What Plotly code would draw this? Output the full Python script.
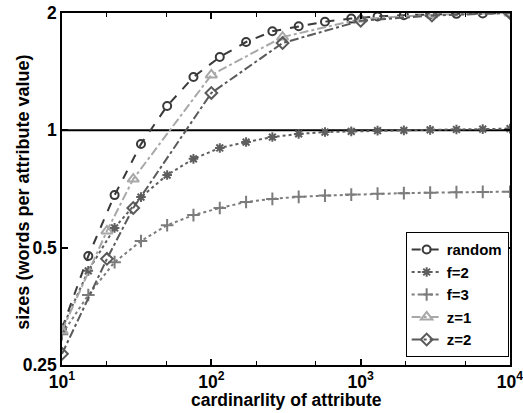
import plotly.graph_objects as go

# cardinalities (18-point log grid) for random/f series
card = [10, 15.0, 22.5, 33.8, 50.6, 75.9, 113.9, 170.9, 256.3, 384.5, 576.7, 865.0,
        1297.6, 1946.4, 2919.6, 4379.4, 6569.1, 10000]
random_v = [0.31, 0.476, 0.682, 0.922, 1.155, 1.37, 1.542, 1.685, 1.795, 1.85, 1.90,
            1.935, 1.96, 1.975, 1.985, 1.99, 1.995, 2.0]
f2_v = [0.31, 0.436, 0.562, 0.674, 0.768, 0.845, 0.901, 0.933, 0.961, 0.979, 0.99,
        0.994, 0.998, 1.0, 1.003, 1.005, 1.007, 1.01]
f3_v = [0.30, 0.378, 0.459, 0.520, 0.571, 0.606, 0.632, 0.655, 0.667, 0.675, 0.680,
        0.684, 0.688, 0.690, 0.692, 0.694, 0.695, 0.696]

# zipf series cardinalities
card_z = [10, 20, 30, 100, 300, 1000, 3000, 10000]
z1_v = [0.306, 0.552, 0.750, 1.387, 1.735, 1.93, 1.98, 2.0]
z2_v = [0.267, 0.468, 0.632, 1.247, 1.675, 1.91, 1.97, 2.0]

ref_level = 1
xtick_vals = [10, 100, 1000, 10000]
xtick_text = ["<b>10<sup>1</sup></b>", "<b>10<sup>2</sup></b>", "<b>10<sup>3</sup></b>", "<b>10<sup>4</sup></b>"]
ytick_vals = [0.25, 0.5, 1, 2]
ytick_text = ["<b>0.25</b>", "<b>0.5</b>", "<b>1</b>", "<b>2</b>"]
x_title = "cardinarlity of attribute"
y_title = "sizes (words per attribute value)"

FONT = "Liberation Sans, Arial, sans-serif"

fig = go.Figure()
fig.add_trace(go.Scatter(x=[min(card), max(card)], y=[ref_level, ref_level], mode="lines",
                         line=dict(color="black", width=2), showlegend=False, hoverinfo="skip"))

series = [
    ("random", card, random_v, "#3a3a3a", "dash", "circle-open", 8),
    ("f=2", card, f2_v, "#5e5e5e", "dot", "asterisk-open", 8),
    ("f=3", card, f3_v, "#7c7c7c", "dot", "cross-thin-open", 9),
    ("z=1", card_z, z1_v, "#a8a8a8", "dashdot", "triangle-up-open", 10),
    ("z=2", card_z, z2_v, "#5a5a5a", "dashdot", "diamond-open", 9),
]
for name, xs, ys, col, dash, sym, size in series:
    fig.add_trace(go.Scatter(
        x=xs, y=ys, name="<b>" + name + "</b>", mode="lines+markers",
        line=dict(color=col, dash=dash, width=2),
        marker=dict(symbol=sym, size=size, color=col, line=dict(color=col, width=2)),
    ))

fig.update_layout(
    width=523, height=413,
    margin=dict(l=62, r=13, t=13, b=48, autoexpand=False),
    paper_bgcolor="white", plot_bgcolor="white",
    font=dict(family=FONT, size=15, color="black"),
    legend=dict(x=0.997, y=0.022, xanchor="right", yanchor="bottom",
                bgcolor="white", bordercolor="black", borderwidth=1,
                font=dict(family=FONT, size=15, color="black"),
                tracegroupgap=0, itemwidth=30),
    annotations=[
        dict(text="<b>" + x_title + "</b>", xref="paper", yref="paper",
             x=0.5, y=-0.099, xanchor="center", yanchor="middle", showarrow=False,
             font=dict(family=FONT, size=17.5, color="black")),
        dict(text="<b>" + y_title + "</b>", xref="paper", yref="paper",
             x=-0.089, y=0.49, xanchor="center", yanchor="middle", showarrow=False,
             textangle=-90, font=dict(family=FONT, size=18, color="black")),
    ],
)
fig.update_xaxes(
    type="log", range=[1, 4], automargin=False, ticklabeloverflow="allow",
    tickvals=xtick_vals, ticktext=xtick_text,
    tickfont=dict(family=FONT, size=17.5, color="black"),
    ticks="inside", ticklen=6, tickwidth=1.5, tickcolor="black",
    minor=dict(ticks="inside", ticklen=4, tickcolor="black", tickwidth=1,
               dtick="D2", showgrid=False),
    showline=True, linecolor="black", linewidth=1.5, mirror="ticks",
    showgrid=False, zeroline=False,
)
fig.update_yaxes(
    type="log", range=[-0.60206, 0.30103], automargin=False, ticklabeloverflow="allow",
    tickvals=ytick_vals, ticktext=ytick_text,
    tickfont=dict(family=FONT, size=17.5, color="black"),
    ticks="inside", ticklen=6, tickwidth=1.5, tickcolor="black",
    showline=True, linecolor="black", linewidth=1.5, mirror="ticks",
    showgrid=False, zeroline=False,
)

fig.write_html("out.html", config={"displayModeBar": False},
               post_script="document.body.style.margin='0';")
